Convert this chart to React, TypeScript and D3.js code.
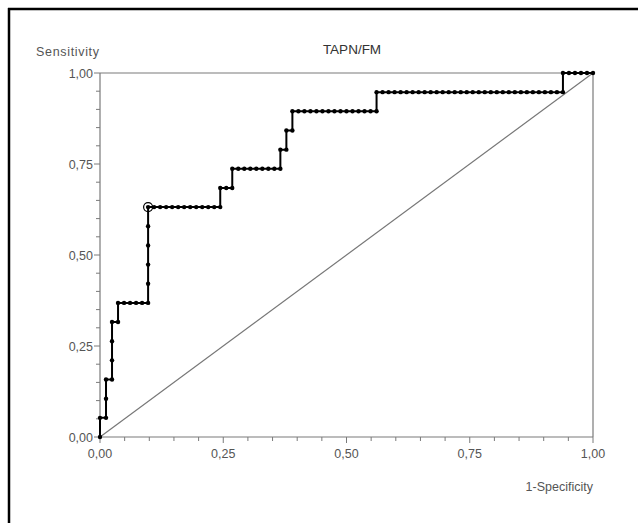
import React from "react";
import * as d3 from "d3";

// ROC steps, from highest threshold down: "P" = one more true positive, "N" = one more false positive
const stepSequence: string[] = [
  "P", "N", "P", "P", "N", "P", "P", "P", "N", "P",
  "N", "N", "N", "N", "N",
  "P", "P", "P", "P", "P",
  "N", "N", "N", "N", "N", "N", "N", "N", "N", "N", "N", "N",
  "P", "N", "N",
  "P", "N", "N", "N", "N", "N", "N", "N", "N",
  "P", "N", "P", "N", "P",
  "N", "N", "N", "N", "N", "N", "N", "N", "N", "N", "N", "N", "N", "N",
  "P",
  "N", "N", "N", "N", "N", "N", "N", "N", "N", "N", "N", "N", "N", "N", "N", "N",
  "N", "N", "N", "N", "N", "N", "N", "N", "N", "N", "N", "N", "N", "N", "N",
  "P", "N", "N", "N", "N", "N",
];
const cutoffIndex = 20; // highlighted point (after 20 steps)
const tickValues = [0, 0.25, 0.5, 0.75, 1];
const tickLabels = ["0,00", "0,25", "0,50", "0,75", "1,00"];
const minorTicks = [0.05, 0.1, 0.15, 0.2, 0.3, 0.35, 0.4, 0.45, 0.55, 0.6, 0.65, 0.7, 0.8, 0.85, 0.9, 0.95];
const title = "TAPN/FM";
const yTitle = "Sensitivity";
const xTitle = "1-Specificity";

export default function App() {
  const W = 638, H = 523;
  const x0 = 100, x1 = 593, y0 = 437, y1 = 73;
  const nPos = stepSequence.filter((s) => s === "P").length;
  const nNeg = stepSequence.filter((s) => s === "N").length;
  const pts: [number, number][] = [[0, 0]];
  let tp = 0, fp = 0;
  stepSequence.forEach((s) => {
    if (s === "P") tp++; else fp++;
    pts.push([fp / nNeg, tp / nPos]);
  });
  const x = d3.scaleLinear().domain([0, 1]).range([x0, x1]);
  const y = d3.scaleLinear().domain([0, 1]).range([y0, y1]);
  const line = d3.line<[number, number]>().x((d) => x(d[0])).y((d) => y(d[1]));
  const font = "'Liberation Sans', Arial, sans-serif";
  const axisCol = "#7a7a7a";
  const textCol = "#555";
  const cut = pts[cutoffIndex];

  return (
    <svg width={W} height={H} style={{ position: "absolute", left: 0, top: 0, background: "#fff" }}>
      <rect x={0} y={0} width={W} height={H} fill="#fff" />
      {/* outer frame */}
      <line x1={8} y1={9} x2={W} y2={9} stroke="#000" strokeWidth={2.5} />
      <line x1={9} y1={8} x2={9} y2={H} stroke="#000" strokeWidth={2.5} />

      <text x={352} y={54} textAnchor="middle" fontFamily={font} fontSize={13.5} fill="#333">{title}</text>
      <text x={36} y={56} fontFamily={font} fontSize={12.5} fill={textCol} textLength={63}>{yTitle}</text>
      <text x={593} y={491} textAnchor="end" fontFamily={font} fontSize={12.5} fill={textCol}>{xTitle}</text>

      {/* plot frame */}
      <line x1={x0} y1={y1} x2={x1} y2={y1} stroke={axisCol} strokeWidth={1.2} />
      <line x1={x1} y1={y1} x2={x1} y2={y0} stroke={axisCol} strokeWidth={1.2} />
      <line x1={x0} y1={y0} x2={x1} y2={y0} stroke={axisCol} strokeWidth={1.2} />
      <line x1={x0} y1={y0} x2={x0} y2={y1} stroke={axisCol} strokeWidth={1.2} />

      {/* ticks */}
      {tickValues.map((v, i) => (
        <g key={"t" + i}>
          <line x1={x0 - 6} x2={x0} y1={y(v)} y2={y(v)} stroke={axisCol} strokeWidth={1} />
          <line x1={x(v)} x2={x(v)} y1={y0} y2={y0 + 6} stroke={axisCol} strokeWidth={1} />
          <text x={x0 - 7} y={y(v) + 4.5} textAnchor="end" fontFamily={font} fontSize={12.5} fill={textCol}>{tickLabels[i]}</text>
          <text x={x(v)} y={y0 + 21} textAnchor="middle" fontFamily={font} fontSize={12.5} fill={textCol}>{tickLabels[i]}</text>
        </g>
      ))}
      {minorTicks.map((v, i) => (
        <g key={"m" + i}>
          <line x1={x0 - 4} x2={x0} y1={y(v)} y2={y(v)} stroke={axisCol} strokeWidth={1} />
          <line x1={x(v)} x2={x(v)} y1={y0} y2={y0 + 4} stroke={axisCol} strokeWidth={1} />
        </g>
      ))}

      {/* reference diagonal */}
      <line x1={x(0)} y1={y(0)} x2={x(1)} y2={y(1)} stroke="#777" strokeWidth={1.2} />

      {/* ROC curve */}
      <path d={line(pts) || ""} fill="none" stroke="#000" strokeWidth={2} />
      {pts.map((p, i) => (
        <circle key={"p" + i} cx={x(p[0])} cy={y(p[1])} r={2.2} fill="#000" />
      ))}
      <circle cx={x(cut[0])} cy={y(cut[1])} r={4.5} fill="none" stroke="#000" strokeWidth={1.2} />
    </svg>
  );
}
